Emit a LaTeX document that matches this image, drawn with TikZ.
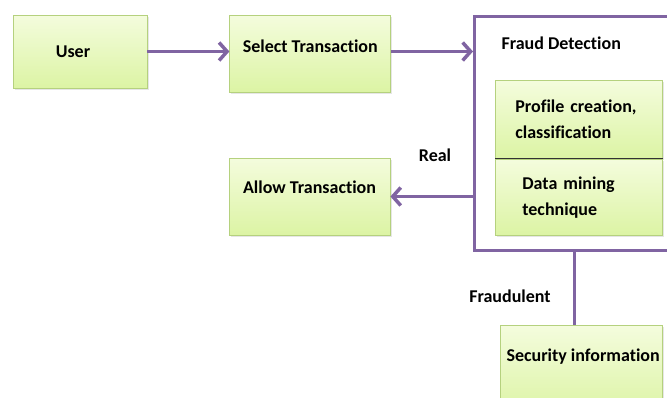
\documentclass[tikz,border=0pt]{standalone}
\usepackage{fontspec}
\setmainfont{Carlito}[Ligatures=NoCommon]
\usetikzlibrary{arrows.meta,positioning,calc,shadows}

\definecolor{boxtop}{HTML}{F4FCDD}
\definecolor{boxbot}{HTML}{DCF4A4}
\definecolor{boxline}{HTML}{B5D17E}
\definecolor{flowpurple}{HTML}{8064A2}

\begin{document}
\begin{tikzpicture}[
    x=1pt, y=-1pt,
    greenbox/.style={rectangle, draw=boxline, line width=0.8pt, top color=boxtop, bottom color=boxbot, align=center, inner sep=0pt,
        font=\fontsize{18}{26}\selectfont\bfseries, drop shadow={opacity=0.2, shadow xshift=1.5pt, shadow yshift=-1.5pt}},
    framebox/.style={rectangle, draw=flowpurple, line width=2.5pt, fill=white, inner sep=0pt},
    lbl/.style={font=\fontsize{18}{20}\selectfont\bfseries},
    flow/.style={draw=flowpurple, line width=3.5pt, -{Straight Barb[length=8pt,width=18pt,line width=3.5pt]}},
    link/.style={draw=flowpurple, line width=3.5pt}
]
\useasboundingbox (0,0) rectangle (667,397);
\clip (0,0) rectangle (667,397);

% top row
\node[greenbox, minimum width=134, minimum height=73] (user) at (80,51.5) {\hspace*{-14pt}User};
\node[greenbox, minimum width=161, minimum height=77, right=82 of user.east, anchor=west, yshift=-2, text depth=14pt] (select) {Select Transaction};

% fraud detection frame and its two parts
\node[framebox, minimum width=250, minimum height=234, anchor=north west] (fraud) at (473,15) {};
\node[lbl, anchor=west] (fdtitle) at ($(fraud.north west)+(25,28)$) {Fraud Detection};
\node[greenbox, minimum width=167, minimum height=78, anchor=north west, align=left, text width=127] (profile) at (495,80) {Profile creation,\\classification};
\node[greenbox, minimum width=167, minimum height=76, below=0 of profile, align=left, text width=113] (mining) {Data mining\\technique};
\draw[black!80, line width=0.8pt] (profile.south west) -- (profile.south east);

% results
\node[greenbox, minimum width=161, minimum height=77, text depth=18pt] (allow) at (309.5,196.5) {Allow Transaction};
\node[greenbox, minimum width=162, minimum height=90, anchor=north west] (security) at (500,325) {};
\node[lbl, anchor=west] (sectext) at (503,357) {Security information};
\coordinate (sectop) at ($(security.north)+(-7,0)$);

\draw[flow] (user.east) -- (user.east -| select.west);
\draw[flow] (user.east -| select.east) -- (user.east -| fraud.west);
\draw[flow] (fraud.west |- allow) -- (allow);
\draw[link] (sectop |- fraud.south) -- (sectop);

\node[lbl] (real) at (435,155) {Real};
\node[lbl] (fraudulent) at (510,296) {Fraudulent};

\end{tikzpicture}
\end{document}
